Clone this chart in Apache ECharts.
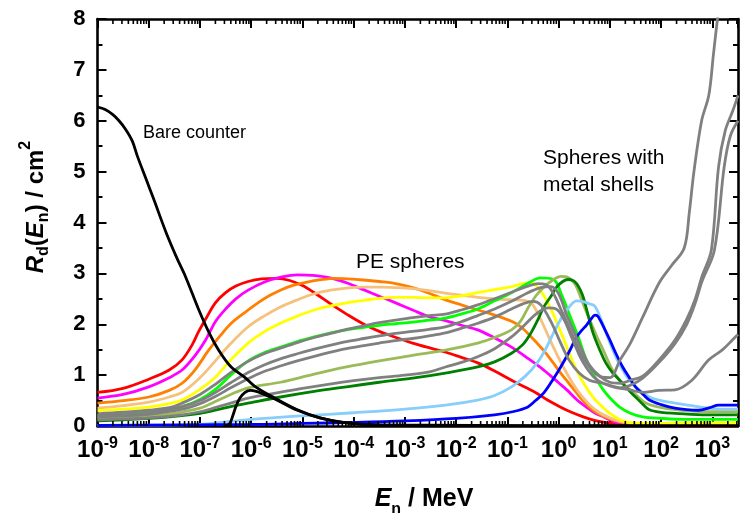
<!DOCTYPE html>
<html>
<head>
<meta charset="utf-8">
<script src="https://cdn.jsdelivr.net/npm/echarts@6/dist/echarts.min.js"></script>
<style>
  html, body { margin: 0; padding: 0; background: #fff; }
  #chart { width: 741px; height: 513px; }
</style>
</head>
<body>
<div id="chart"></div>
<script>
// Response functions R_d(E_n) of the counter and spheres.
// Each point: [log10(E_n / MeV), R_d / cm^2]

const decadeTicks = [-9, -8, -7, -6, -5, -4, -3, -2, -1, 0, 1, 2, 3];

const bareCounter = [[-9,6.27],[-8.85,6.22],[-8.7,6.12],[-8.58,6.0],[-8.45,5.83],[-8.32,5.6],[-8.22,5.3],[-8.05,4.85],[-7.9,4.45],[-7.66,3.8],[-7.45,3.3],[-7.28,2.93],[-7.03,2.3],[-6.83,1.85],[-6.64,1.5],[-6.4,1.17],[-6.12,0.95],[-5.93,0.78],[-5.54,0.55],[-5.1,0.32],[-4.66,0.16],[-4.14,0.06],[-3.5,0.02],[-2,0.005],[3.5,0]];

const bareCovered = [[-6.5,0],[-6.42,0.05],[-6.36,0.2],[-6.3,0.38],[-6.22,0.55],[-6.12,0.66],[-6.02,0.7],[-5.9,0.68],[-5.75,0.62],[-5.54,0.53],[-5.1,0.31],[-4.66,0.16],[-4.14,0.06],[-3.5,0.02],[3.5,0]];

const peRed = [[-9,0.66],[-8.5,0.74],[-8,0.92],[-7.6,1.1],[-7.35,1.3],[-7.15,1.6],[-7.03,1.85],[-6.89,2.1],[-6.7,2.42],[-6.5,2.62],[-6.3,2.75],[-6.06,2.84],[-5.8,2.89],[-5.5,2.9],[-5.25,2.86],[-5.0,2.76],[-4.77,2.62],[-4.45,2.4],[-4.14,2.2],[-3.8,2.0],[-3.5,1.86],[-3.2,1.75],[-2.85,1.63],[-2.5,1.53],[-2.2,1.45],[-1.9,1.35],[-1.58,1.24],[-1.25,1.08],[-0.92,0.9],[-0.65,0.76],[-0.42,0.64],[-0.2,0.5],[0.04,0.37],[0.25,0.27],[0.48,0.18],[0.7,0.11],[0.9,0.07],[1.2,0.03],[1.6,0.01],[3.5,0]];

const peMagenta = [[-9,0.55],[-8.5,0.62],[-8,0.77],[-7.6,0.95],[-7.35,1.1],[-7.1,1.38],[-6.89,1.69],[-6.7,2.05],[-6.5,2.3],[-6.3,2.5],[-6.06,2.67],[-5.74,2.83],[-5.4,2.93],[-5.1,2.97],[-4.8,2.96],[-4.46,2.91],[-4.1,2.8],[-3.81,2.68],[-3.5,2.55],[-3.18,2.42],[-2.85,2.28],[-2.53,2.15],[-2.21,2.07],[-1.9,1.98],[-1.58,1.89],[-1.25,1.73],[-0.92,1.55],[-0.6,1.33],[-0.29,1.1],[0,0.85],[0.16,0.71],[0.35,0.52],[0.54,0.37],[0.7,0.26],[0.87,0.18],[1.1,0.08],[1.4,0.03],[1.8,0.01],[3.5,0]];

const peOrange = [[-9,0.45],[-8.5,0.5],[-8,0.57],[-7.6,0.7],[-7.35,0.84],[-7.1,1.1],[-6.83,1.49],[-6.6,1.78],[-6.39,2.02],[-6.1,2.25],[-5.87,2.42],[-5.65,2.56],[-5.43,2.67],[-5.2,2.76],[-4.91,2.83],[-4.6,2.88],[-4.39,2.9],[-4.1,2.89],[-3.81,2.87],[-3.5,2.84],[-3.18,2.8],[-2.85,2.72],[-2.53,2.61],[-2.21,2.48],[-1.9,2.38],[-1.58,2.28],[-1.25,2.18],[-0.92,2.06],[-0.75,1.96],[-0.61,1.83],[-0.45,1.66],[-0.29,1.48],[-0.12,1.26],[0.04,1.04],[0.2,0.84],[0.35,0.65],[0.5,0.47],[0.67,0.31],[0.85,0.2],[1.06,0.12],[1.3,0.06],[1.7,0.02],[3.5,0]];

const peTan = [[-9,0.35],[-8.5,0.4],[-8,0.47],[-7.6,0.57],[-7.35,0.66],[-7,0.95],[-6.7,1.28],[-6.4,1.62],[-6.06,1.95],[-5.75,2.16],[-5.43,2.34],[-5.1,2.48],[-4.77,2.6],[-4.45,2.67],[-4.14,2.71],[-3.8,2.73],[-3.5,2.73],[-3.18,2.72],[-2.85,2.7],[-2.53,2.66],[-2.21,2.61],[-1.9,2.57],[-1.58,2.53],[-1.25,2.5],[-0.92,2.48],[-0.7,2.47],[-0.54,2.42],[-0.4,2.2],[-0.23,1.83],[-0.07,1.48],[0.09,1.16],[0.25,0.88],[0.4,0.65],[0.6,0.42],[0.8,0.26],[1.0,0.16],[1.2,0.09],[1.5,0.04],[1.9,0.02],[3.5,0.02]];

const peYellow = [[-9,0.3],[-8.5,0.33],[-8,0.37],[-7.6,0.44],[-7.35,0.51],[-7,0.72],[-6.7,0.96],[-6.4,1.3],[-6.06,1.63],[-5.75,1.85],[-5.43,2.02],[-5.1,2.16],[-4.77,2.28],[-4.45,2.36],[-4.14,2.42],[-3.8,2.47],[-3.5,2.51],[-3.18,2.53],[-2.85,2.53],[-2.53,2.52],[-2.21,2.52],[-1.9,2.56],[-1.58,2.62],[-1.25,2.68],[-0.92,2.74],[-0.7,2.8],[-0.55,2.82],[-0.4,2.72],[-0.2,2.4],[0.04,1.85],[0.2,1.45],[0.35,1.1],[0.5,0.82],[0.67,0.57],[0.85,0.38],[1.0,0.25],[1.25,0.1],[1.6,0.05],[2.0,0.05],[2.5,0.06],[3.5,0.06]];

const peGreen = [[-9,0.2],[-8.5,0.24],[-8,0.3],[-7.6,0.34],[-7.35,0.38],[-7,0.52],[-6.7,0.72],[-6.4,1.0],[-6.06,1.28],[-5.75,1.44],[-5.43,1.55],[-5.1,1.66],[-4.77,1.75],[-4.45,1.83],[-4.14,1.89],[-3.8,1.94],[-3.5,1.98],[-3.18,2.01],[-2.85,2.04],[-2.53,2.08],[-2.21,2.12],[-1.9,2.2],[-1.58,2.3],[-1.25,2.46],[-0.92,2.62],[-0.61,2.8],[-0.35,2.91],[-0.1,2.88],[0.05,2.6],[0.23,2.14],[0.4,1.7],[0.54,1.3],[0.7,0.98],[0.87,0.71],[1.05,0.5],[1.19,0.37],[1.4,0.25],[1.64,0.18],[2.0,0.15],[2.5,0.13],[3.0,0.13],[3.5,0.13]];

const peOlive = [[-9,0.15],[-8.5,0.17],[-8,0.2],[-7.5,0.25],[-7,0.35],[-6.7,0.48],[-6.4,0.62],[-6.06,0.75],[-5.43,0.86],[-4.77,1.02],[-4.14,1.16],[-3.5,1.28],[-2.85,1.39],[-2.21,1.49],[-1.58,1.63],[-1.25,1.74],[-0.92,1.89],[-0.75,2.05],[-0.61,2.3],[-0.45,2.55],[-0.29,2.73],[-0.1,2.88],[0.05,2.94],[0.16,2.93],[0.27,2.85],[0.35,2.73],[0.48,2.4],[0.6,2.1],[0.75,1.75],[0.87,1.49],[1.05,1.1],[1.19,0.9],[1.35,0.75],[1.5,0.62],[1.7,0.45],[1.96,0.37],[2.3,0.32],[2.9,0.28],[3.5,0.28]];

const peDarkGreen = [[-9,0.1],[-8.5,0.12],[-8,0.15],[-7.5,0.19],[-7,0.25],[-6.7,0.31],[-6.4,0.38],[-6,0.46],[-5.43,0.57],[-4.77,0.68],[-4.14,0.77],[-3.5,0.86],[-2.85,0.94],[-2.21,1.04],[-1.58,1.16],[-1.25,1.26],[-0.92,1.43],[-0.7,1.6],[-0.54,1.83],[-0.4,2.1],[-0.29,2.34],[-0.15,2.55],[-0.04,2.73],[0.08,2.84],[0.18,2.88],[0.28,2.86],[0.35,2.8],[0.42,2.68],[0.48,2.53],[0.57,2.2],[0.67,1.83],[0.8,1.5],[0.92,1.24],[1.05,1.05],[1.19,0.9],[1.35,0.72],[1.5,0.57],[1.65,0.42],[1.77,0.32],[2.0,0.27],[2.27,0.25],[2.9,0.22],[3.5,0.22]];

const peLightBlue = [[-9,0.01],[-7,0.03],[-6.5,0.08],[-6,0.13],[-5,0.2],[-4,0.26],[-3,0.33],[-2.21,0.41],[-1.58,0.51],[-1.25,0.6],[-0.92,0.77],[-0.65,0.98],[-0.42,1.24],[-0.25,1.52],[-0.1,1.83],[0.03,2.08],[0.16,2.28],[0.35,2.46],[0.5,2.44],[0.6,2.4],[0.7,2.36],[0.81,2.14],[0.9,1.9],[1.0,1.63],[1.12,1.35],[1.25,1.1],[1.38,0.9],[1.5,0.77],[1.77,0.57],[2.0,0.5],[2.27,0.45],[2.6,0.4],[2.93,0.35],[3.2,0.33],[3.5,0.33]];

const peBlue = [[-9,0.01],[-6,0.03],[-5,0.05],[-4,0.07],[-3,0.1],[-2,0.15],[-1.25,0.22],[-0.9,0.28],[-0.61,0.37],[-0.45,0.5],[-0.29,0.65],[-0.12,0.9],[0.04,1.16],[0.2,1.45],[0.35,1.75],[0.45,1.88],[0.54,1.98],[0.63,2.1],[0.71,2.18],[0.76,2.16],[0.81,2.08],[0.9,1.9],[1.0,1.69],[1.12,1.42],[1.25,1.16],[1.38,0.95],[1.5,0.77],[1.65,0.62],[1.77,0.51],[2.0,0.42],[2.27,0.35],[2.5,0.32],[2.73,0.31],[2.95,0.36],[3.12,0.41],[3.5,0.41]];

const shellA = [[-9,0.24],[-8.5,0.27],[-8,0.31],[-7.6,0.36],[-7.35,0.45],[-7,0.62],[-6.7,0.82],[-6.4,1.05],[-6.06,1.27],[-5.75,1.42],[-5.43,1.53],[-5.1,1.64],[-4.77,1.74],[-4.45,1.82],[-4.14,1.9],[-3.8,1.97],[-3.5,2.03],[-3.18,2.08],[-2.85,2.13],[-2.53,2.17],[-2.21,2.2],[-1.9,2.28],[-1.58,2.38],[-1.25,2.5],[-0.92,2.63],[-0.6,2.75],[-0.4,2.8],[-0.25,2.78],[-0.1,2.6],[0.04,2.3],[0.2,1.95],[0.35,1.6],[0.5,1.3],[0.67,1.08],[0.85,0.96],[1.0,0.95],[1.2,1.3],[1.4,1.63],[1.64,2.14],[1.96,2.81],[2.2,3.15],[2.45,3.5],[2.55,4.2],[2.64,5.0],[2.79,6.0],[2.93,6.5],[3.02,7.3],[3.1,8.0],[3.3,9.5],[3.5,11]];

const shellB = [[-9,0.2],[-8.5,0.22],[-8,0.26],[-7.35,0.38],[-7,0.5],[-6.7,0.66],[-6.4,0.85],[-6.06,1.05],[-5.75,1.2],[-5.43,1.32],[-5.1,1.42],[-4.77,1.51],[-4.45,1.59],[-4.14,1.66],[-3.8,1.72],[-3.5,1.77],[-3.18,1.82],[-2.85,1.86],[-2.53,1.9],[-2.21,1.95],[-1.9,2.05],[-1.58,2.17],[-1.25,2.3],[-0.92,2.45],[-0.6,2.62],[-0.35,2.72],[-0.15,2.74],[0.0,2.6],[0.15,2.2],[0.3,1.85],[0.45,1.5],[0.6,1.2],[0.8,0.98],[1.0,0.86],[1.2,0.84],[1.4,0.9],[1.64,0.98],[1.96,1.3],[2.27,1.69],[2.5,2.1],[2.66,2.48],[2.8,2.95],[2.98,3.46],[3.12,5.09],[3.25,5.8],[3.4,6.2],[3.5,6.5]];

const shellC = [[-9,0.18],[-8.5,0.2],[-8,0.23],[-7.35,0.33],[-7,0.44],[-6.7,0.58],[-6.4,0.75],[-6.06,0.93],[-5.75,1.07],[-5.43,1.18],[-5.1,1.28],[-4.77,1.37],[-4.45,1.45],[-4.14,1.52],[-3.8,1.58],[-3.5,1.63],[-3.18,1.68],[-2.85,1.72],[-2.53,1.77],[-2.21,1.83],[-1.9,1.92],[-1.58,2.02],[-1.25,2.14],[-0.92,2.3],[-0.7,2.4],[-0.5,2.45],[-0.35,2.38],[-0.15,2.05],[0.04,1.63],[0.2,1.3],[0.4,1.04],[0.6,0.9],[0.87,0.84],[1.0,0.8],[1.2,0.75],[1.4,0.8],[1.64,0.94],[1.96,1.25],[2.27,1.62],[2.5,2.0],[2.66,2.4],[2.8,2.85],[3.04,3.46],[3.23,5.09],[3.35,5.7],[3.5,6.0]];

const shellD = [[-9,0.12],[-8.5,0.14],[-8,0.16],[-7.35,0.22],[-7,0.28],[-6.7,0.36],[-6.4,0.45],[-6.06,0.55],[-5.5,0.65],[-5,0.74],[-4.5,0.82],[-4,0.89],[-3.5,0.95],[-3,1.0],[-2.5,1.07],[-2.21,1.16],[-1.9,1.25],[-1.58,1.36],[-1.25,1.52],[-0.92,1.75],[-0.65,2.0],[-0.42,2.22],[-0.2,2.32],[-0.05,2.3],[0.1,2.1],[0.23,1.8],[0.4,1.4],[0.54,1.15],[0.7,0.95],[0.87,0.84],[1.1,0.76],[1.39,0.71],[1.64,0.66],[1.96,0.7],[2.27,0.71],[2.6,0.9],[2.93,1.3],[3.2,1.5],[3.39,1.69],[3.5,1.8]];

// Minor tick positions (2..9 within each decade) on the log-energy axis
const minorTicks = [];
decadeTicks.forEach(function (d) {
  for (let k = 2; k <= 9; k++) {
    const v = d + Math.log10(k);
    if (v <= 3.5) minorTicks.push([v]);
  }
});

const FONT = "'Liberation Sans', Arial, sans-serif";
const LW = 2.8;

function curve(name, data, color, z) {
  return {
    name: name, type: 'line', data: data,
    xAxisIndex: 0, yAxisIndex: 0,
    showSymbol: false, smooth: 0.35,
    lineStyle: { color: color, width: LW },
    itemStyle: { color: color },
    z: z || 2, silent: true, animation: false
  };
}

const chart = echarts.init(document.getElementById('chart'), null, { renderer: 'canvas' });

const xAxisBase = {
  type: 'value', min: -9, max: 3.5, interval: 1,
  axisLine: { onZero: false, lineStyle: { color: '#000', width: 2.6 } },
  axisTick: { inside: true, length: 9, lineStyle: { color: '#000', width: 2 } },
  splitLine: { show: false }
};
const yAxisBase = {
  type: 'value', min: 0, max: 8, interval: 1,
  axisLine: { show: true, onZero: false, lineStyle: { color: '#000', width: 2.6 } },
  axisTick: { show: true, inside: true, length: 9, lineStyle: { color: '#000', width: 2 } },
  minorTick: { show: true, splitNumber: 2, length: 5, lineStyle: { color: '#000', width: 2 } },
  splitLine: { show: false }
};

chart.setOption({
  animation: false,
  backgroundColor: '#fff',
  grid: { left: 97.5, right: -5, top: 19, bottom: 87, containLabel: false },
  xAxis: [
    Object.assign({}, xAxisBase, {
      position: 'bottom',
      axisLabel: {
        margin: 10,
        formatter: function (v) {
          return Number.isInteger(v) ? '{b|10}{s|' + v + '}' : '';
        },
        rich: {
          b: { fontFamily: FONT, fontSize: 24, fontWeight: 'bold', color: '#000', lineHeight: 28 },
          s: { fontFamily: FONT, fontSize: 16, fontWeight: 'bold', color: '#000', verticalAlign: 'top', lineHeight: 16 }
        }
      }
    }),
    Object.assign({}, xAxisBase, { position: 'top', axisLabel: { show: false } })
  ],
  yAxis: [
    Object.assign({}, yAxisBase, {
      position: 'left',
      axisLabel: { margin: 12, fontFamily: FONT, fontSize: 22, fontWeight: 'bold', color: '#000' }
    }),
    Object.assign({}, yAxisBase, { position: 'right', axisLabel: { show: false } })
  ],
  graphic: [
    {
      type: 'text', x: 33, y: 207, rotation: Math.PI / 2,
      style: {
        text: '{i|R}{sb|d}{n|(}{i|E}{sb|n}{n|) / cm}{sp|2}',
        align: 'center', verticalAlign: 'middle',
        rich: {
          i: { fontFamily: FONT, fontSize: 24, fontWeight: 'bold', fontStyle: 'italic', fill: '#000', lineHeight: 30, verticalAlign: 'bottom' },
          n: { fontFamily: FONT, fontSize: 24, fontWeight: 'bold', fill: '#000', lineHeight: 30, verticalAlign: 'bottom' },
          sb: { fontFamily: FONT, fontSize: 16, fontWeight: 'bold', fill: '#000', lineHeight: 30, verticalAlign: 'bottom', padding: [0, 0, -4, 0] },
          sp: { fontFamily: FONT, fontSize: 16, fontWeight: 'bold', fill: '#000', lineHeight: 16, verticalAlign: 'top' }
        }
      }
    },
    {
      type: 'text', x: 424, y: 497,
      style: {
        text: '{i|E}{sb|n}{n| / MeV}',
        align: 'center', verticalAlign: 'middle',
        rich: {
          i: { fontFamily: FONT, fontSize: 25, fontWeight: 'bold', fontStyle: 'italic', fill: '#000', lineHeight: 30, verticalAlign: 'bottom' },
          n: { fontFamily: FONT, fontSize: 25, fontWeight: 'bold', fill: '#000', lineHeight: 30, verticalAlign: 'bottom' },
          sb: { fontFamily: FONT, fontSize: 16, fontWeight: 'bold', fill: '#000', lineHeight: 30, verticalAlign: 'bottom', padding: [0, 0, -6, 0] }
        }
      }
    },
    { type: 'text', x: 143, y: 133, style: { text: 'Bare counter', fontFamily: FONT, fontSize: 18, fill: '#000', verticalAlign: 'middle' } },
    { type: 'text', x: 356, y: 262, style: { text: 'PE spheres', fontFamily: FONT, fontSize: 21, fill: '#000', verticalAlign: 'middle' } },
    { type: 'text', x: 543, y: 158, style: { text: 'Spheres with', fontFamily: FONT, fontSize: 21, fill: '#000', verticalAlign: 'middle' } },
    { type: 'text', x: 543, y: 185, style: { text: 'metal shells', fontFamily: FONT, fontSize: 21, fill: '#000', verticalAlign: 'middle' } }
  ],
  series: [
    curve('PE red', peRed, '#FF0000'),
    curve('PE magenta', peMagenta, '#FF00FF'),
    curve('PE orange', peOrange, '#FF8000'),
    curve('PE tan', peTan, '#F5C27E'),
    curve('PE yellow', peYellow, '#FFFF00'),
    curve('PE green', peGreen, '#00FF00'),
    curve('PE olive', peOlive, '#9BBB59'),
    curve('PE dark green', peDarkGreen, '#008000'),
    curve('PE light blue', peLightBlue, '#87CEFA'),
    curve('PE blue', peBlue, '#0000FF'),
    curve('Shell A', shellA, '#808080', 3),
    curve('Shell B', shellB, '#808080', 3),
    curve('Shell C', shellC, '#808080', 3),
    curve('Shell D', shellD, '#808080', 3),
    curve('Bare counter', bareCounter, '#000000', 4),
    curve('Bare counter (covered)', bareCovered, '#000000', 4),
    {
      type: 'custom', name: 'minor ticks', data: minorTicks,
      xAxisIndex: 0, yAxisIndex: 0, z: 6, silent: true, animation: false,
      renderItem: function (params, api) {
        const v = api.value(0);
        const pb = api.coord([v, 0]);
        const pt = api.coord([v, 8]);
        const st = { stroke: '#000', lineWidth: 1.6 };
        return {
          type: 'group',
          children: [
            { type: 'line', shape: { x1: pb[0], y1: pb[1], x2: pb[0], y2: pb[1] - 5 }, style: st },
            { type: 'line', shape: { x1: pt[0], y1: pt[1], x2: pt[0], y2: pt[1] + 5 }, style: st }
          ]
        };
      }
    }
  ]
});
</script>
</body>
</html>
